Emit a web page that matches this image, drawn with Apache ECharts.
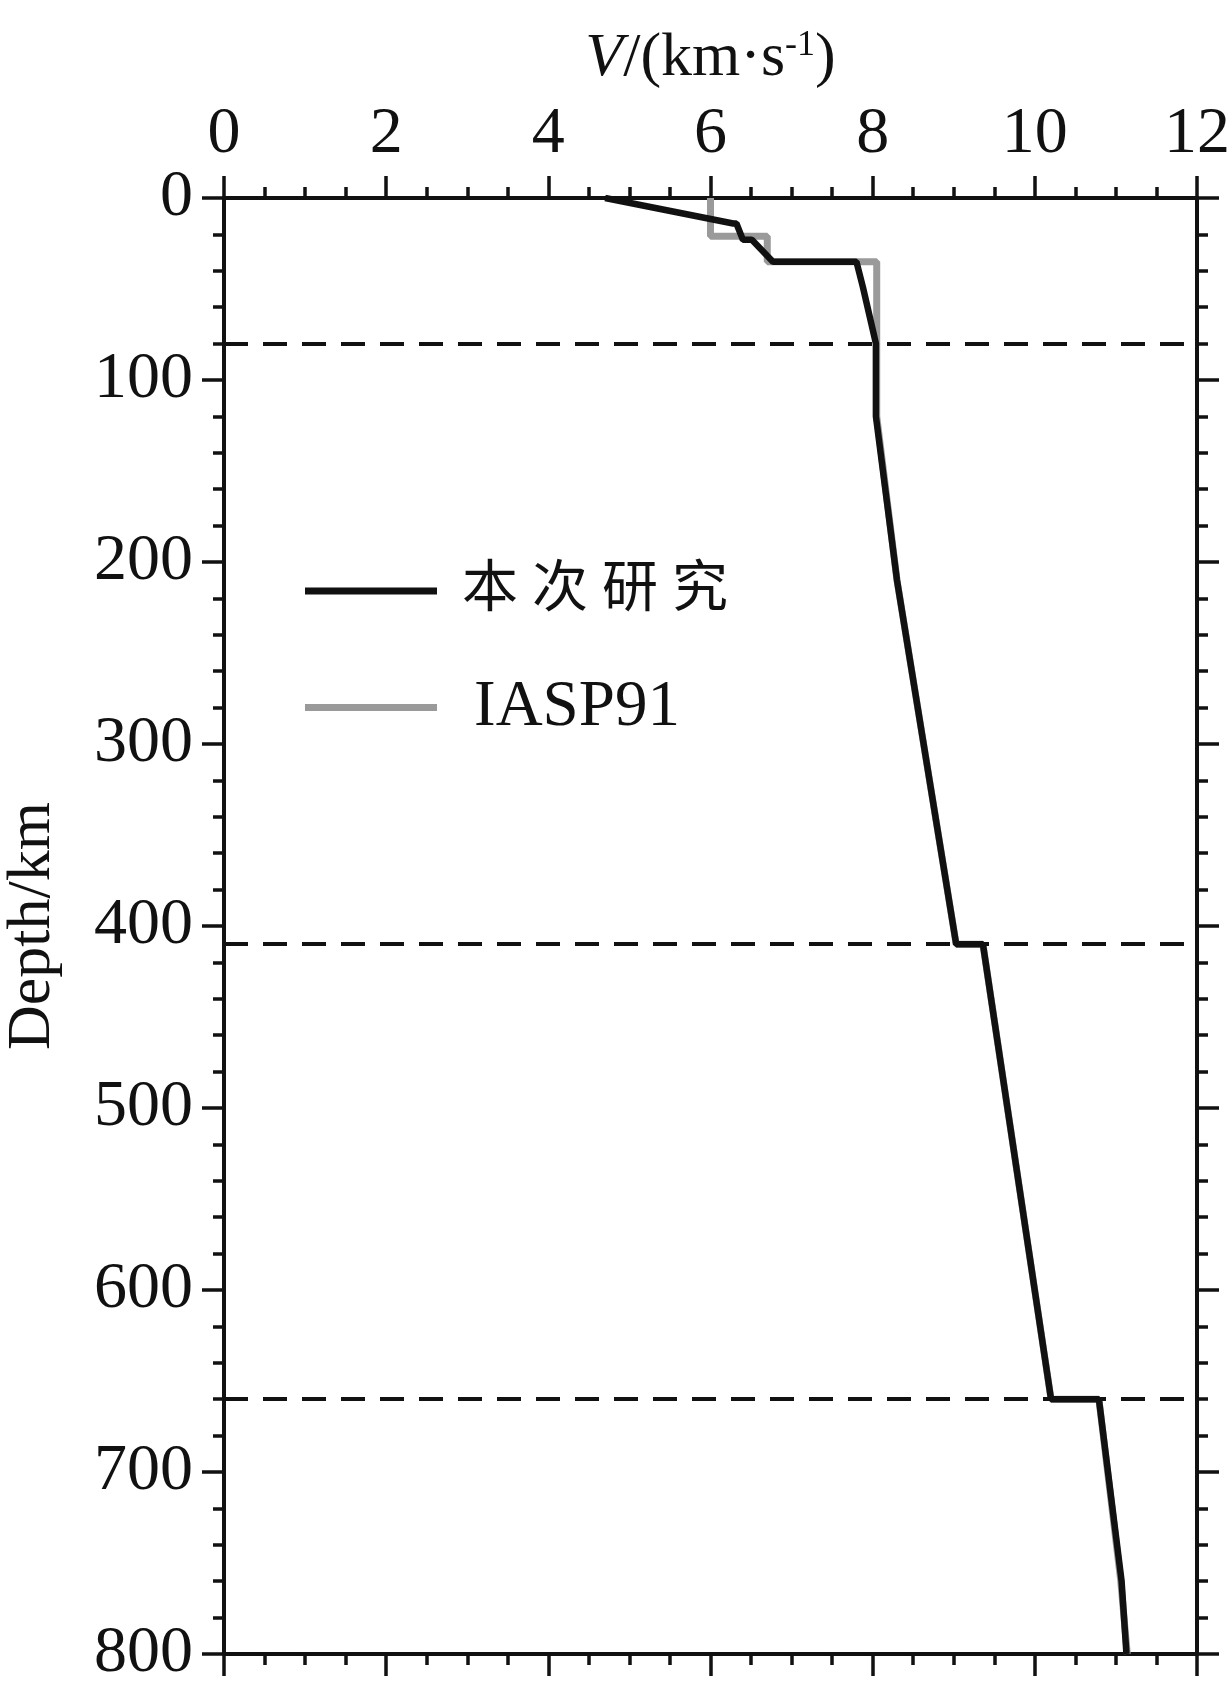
<!DOCTYPE html>
<html>
<head>
<meta charset="utf-8">
<script src="https://cdn.jsdelivr.net/npm/echarts@6/dist/echarts.min.js"></script>
<style>
html,body{margin:0;padding:0;background:#fff;}
#chart{width:1231px;height:1698px;}
</style>
</head>
<body>
<div id="chart"></div>
<script>
// Velocity (km/s) and depth (km) for this study
const studyV = [4.70, 6.28, 6.32, 6.40, 6.51, 6.77, 7.80, 7.88, 8.04, 8.04, 8.30, 9.03, 9.36, 10.20, 10.79, 11.07, 11.13];
const studyD = [0, 14, 14, 23, 23, 35, 35, 49, 80, 120, 210, 410, 410, 660, 660, 760, 800];
// IASP91 reference model
const iaspV = [6.0, 6.0, 6.7, 6.7, 8.05, 8.05, 8.05, 8.30, 9.03, 9.36, 10.20, 10.79, 11.06, 11.14];
const iaspD = [0, 21, 21, 35, 35, 80, 120, 210, 410, 410, 660, 660, 760, 800];
// Discontinuity depths (dashed lines)
const discontinuities = [80, 410, 660];
const seriesNames = ['本次研究', 'IASP91'];

const serif = "'Liberation Serif', 'Times New Roman', serif";
const chart = echarts.init(document.getElementById('chart'));

const axisLine = {show: true, onZero: false, lineStyle: {color: '#111', width: 4}};
const tick = {show: true, inside: false, length: 22, lineStyle: {color: '#111', width: 3.5}};
const minor = (n) => ({show: true, splitNumber: n, length: 11, lineStyle: {color: '#111', width: 3.5}});

function pairs(v, d) { return v.map((x, i) => [x, d[i]]); }

const option = {
  animation: false,
  backgroundColor: '#fff',
  grid: {left: 224, right: 34, top: 198, bottom: 44, containLabel: false, outerBoundsMode: 'none'},
  legend: {
    orient: 'vertical',
    left: 300,
    top: 558,
    itemGap: 56,
    itemWidth: 132,
    itemHeight: 7,
    icon: 'rect',
    selectedMode: false,
    data: seriesNames,
    formatter: (n) => n === seriesNames[0] ? '{cn|' + n.split('').join(' ') + '}' : '{en|' + n + '}',
    textStyle: {
      rich: {
        cn: {fontFamily: serif + ", 'Noto Sans CJK SC'", fontSize: 56, color: '#111', padding: [0, 0, 0, 20]},
        en: {fontFamily: serif, fontSize: 65, color: '#111', padding: [0, 0, 0, 32]}
      }
    }
  },
  xAxis: [
    {
      type: 'value', position: 'top', min: 0, max: 12, interval: 2,
      name: '{i|V}/(km·s{sup|-1})',
      nameLocation: 'middle', nameGap: 108,
      nameTextStyle: {
        fontFamily: serif, fontSize: 62, color: '#111',
        rich: {
          i: {fontFamily: serif, fontSize: 62, fontStyle: 'italic', color: '#111'},
          sup: {fontFamily: serif, fontSize: 36, color: '#111', verticalAlign: 'top', padding: [0, 0, 24, 0]}
        }
      },
      axisLine: axisLine, axisTick: tick, minorTick: minor(4),
      axisLabel: {fontFamily: serif, fontSize: 66, color: '#111', margin: 30},
      splitLine: {show: false}
    },
    {
      type: 'value', position: 'bottom', min: 0, max: 12, interval: 2,
      axisLine: axisLine, axisTick: tick, minorTick: minor(4),
      axisLabel: {show: false}, splitLine: {show: false}
    }
  ],
  yAxis: [
    {
      type: 'value', position: 'left', inverse: true, min: 0, max: 800, interval: 100,
      name: 'Depth/km', nameLocation: 'middle', nameGap: 160, nameRotate: 90,
      nameTextStyle: {fontFamily: serif, fontSize: 62, color: '#111'},
      axisLine: axisLine, axisTick: tick, minorTick: minor(5),
      axisLabel: {fontFamily: serif, fontSize: 66, color: '#111', margin: 31},
      splitLine: {show: false}
    },
    {
      type: 'value', position: 'right', inverse: true, min: 0, max: 800, interval: 100,
      axisLine: axisLine, axisTick: tick, minorTick: minor(5),
      axisLabel: {show: false}, splitLine: {show: false}
    }
  ],
  series: [
    {
      name: seriesNames[1], type: 'line', xAxisIndex: 0, yAxisIndex: 0,
      data: pairs(iaspV, iaspD), showSymbol: false, symbol: 'none',
      itemStyle: {color: '#9a9a9a'},
      lineStyle: {color: '#9a9a9a', width: 7}, z: 2
    },
    {
      name: seriesNames[0], type: 'line', xAxisIndex: 0, yAxisIndex: 0,
      data: pairs(studyV, studyD), showSymbol: false, symbol: 'none',
      itemStyle: {color: '#111'},
      lineStyle: {color: '#111', width: 6.5}, z: 3,
      markLine: {
        silent: true, symbol: 'none', label: {show: false},
        lineStyle: {color: '#111', width: 4, type: [24, 15]},
        data: discontinuities.map(d => ({yAxis: d}))
      }
    }
  ]
};
chart.setOption(option);
</script>
</body>
</html>
